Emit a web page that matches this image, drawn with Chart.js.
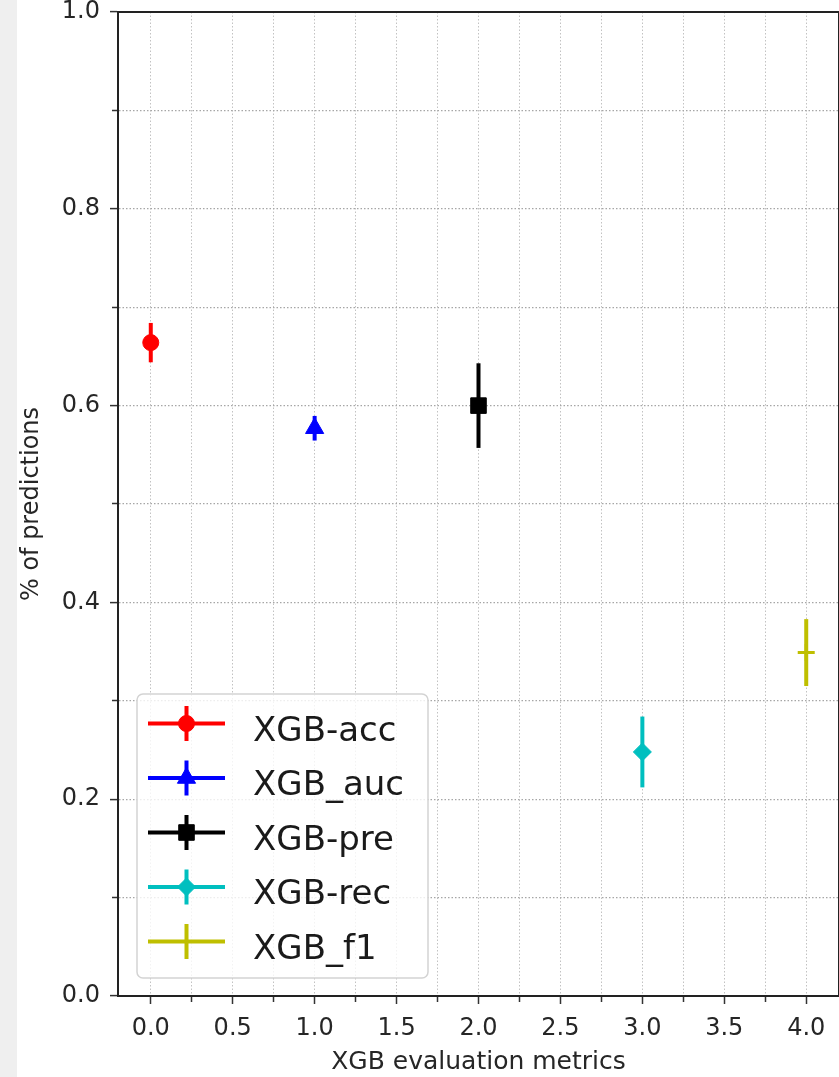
<!DOCTYPE html>
<html>
<head>
<meta charset="utf-8">
<script src="https://cdn.jsdelivr.net/npm/chart.js@4.4.1/dist/chart.umd.min.js"></script>
<style>
  html, body { margin: 0; padding: 0; }
  body {
    width: 839px; height: 1077px; overflow: hidden;
    background: linear-gradient(to right, #efefef 0, #efefef 17px, #ffffff 17px);
  }
  canvas { display: block; }
</style>
</head>
<body>
<canvas id="chart" width="851" height="1077"></canvas>
<script>
// Metric names, positions, means and spread (half-width of each error bar)
const metricNames  = ['XGB-acc', 'XGB_auc', 'XGB-pre', 'XGB-rec', 'XGB_f1'];
const metricX      = [0, 1, 2, 3, 4];
const metricMeans  = [0.664, 0.577, 0.600, 0.248, 0.349];
const metricErrors = [0.020, 0.0125, 0.043, 0.036, 0.034];

// Axis ticks
const xMajorTicks = [0, 0.5, 1, 1.5, 2, 2.5, 3, 3.5, 4];
const xMinorTicks = [0.25, 0.75, 1.25, 1.75, 2.25, 2.75, 3.25, 3.75];
const yMajorTicks = [0, 0.2, 0.4, 0.6, 0.8, 1.0];
const yMinorTicks = [0.1, 0.3, 0.5, 0.7, 0.9];
const xRange = [-0.2, 4.2];
const yRange = [0, 1];

// Marker look for each metric
const markerStyles = [
  { color: '#ff0000', pointStyle: 'circle',   radius: 8,    borderWidth: 1 },
  { color: '#0000ff', pointStyle: 'triangle', radius: 10.5, borderWidth: 1 },
  { color: '#000000', pointStyle: 'rect',     radius: 11,   borderWidth: 1 },
  { color: '#00bfbf', pointStyle: 'rectRot',  radius: 9,    borderWidth: 1 },
  { color: '#bfbf00', pointStyle: 'cross',    radius: 8.5,  borderWidth: 3 }
];

const FONT = "'DejaVu Sans', 'Liberation Sans', sans-serif";
const TEXT = '#262626';

const isIn = (list, v) => list.some(m => Math.abs(m - v) < 1e-9);
const tickList = (major, minor) => major.concat(minor).sort((a, b) => a - b).map(v => ({ value: v }));

const datasets = metricNames.map((name, i) => ({
  label: name,
  data: [{ x: metricX[i], y: metricMeans[i] }],
  pointStyle: markerStyles[i].pointStyle,
  pointRadius: markerStyles[i].radius,
  pointBorderWidth: markerStyles[i].borderWidth,
  backgroundColor: markerStyles[i].color,
  borderColor: markerStyles[i].color,
  showLine: false
}));

// Vertical error bars, drawn under the markers
const errorBars = {
  id: 'errorBars',
  beforeDatasetsDraw(chart) {
    const { ctx, scales: { x, y } } = chart;
    ctx.save();
    ctx.lineWidth = 4;
    ctx.lineCap = 'butt';
    metricNames.forEach((_, i) => {
      const px = x.getPixelForValue(metricX[i]);
      ctx.strokeStyle = markerStyles[i].color;
      ctx.beginPath();
      ctx.moveTo(px, y.getPixelForValue(metricMeans[i] + metricErrors[i]));
      ctx.lineTo(px, y.getPixelForValue(metricMeans[i] - metricErrors[i]));
      ctx.stroke();
    });
    ctx.restore();
  }
};

// Top and right spines to close the frame
const frame = {
  id: 'frame',
  afterDatasetsDraw(chart) {
    const { ctx, chartArea: a } = chart;
    ctx.save();
    ctx.strokeStyle = '#222';
    ctx.lineWidth = 2;
    ctx.beginPath();
    ctx.moveTo(a.left, a.top);
    ctx.lineTo(a.right, a.top);
    ctx.lineTo(a.right, a.bottom);
    ctx.stroke();
    ctx.restore();
  }
};

// Legend box with error-bar style handles
const errLegend = {
  id: 'errLegend',
  afterDraw(chart) {
    const ctx = chart.ctx;
    const bx = 137, by = 694, bw = 291, bh = 284, r = 6;
    ctx.save();
    ctx.beginPath();
    ctx.moveTo(bx + r, by);
    ctx.arcTo(bx + bw, by, bx + bw, by + bh, r);
    ctx.arcTo(bx + bw, by + bh, bx, by + bh, r);
    ctx.arcTo(bx, by + bh, bx, by, r);
    ctx.arcTo(bx, by, bx + bw, by, r);
    ctx.closePath();
    ctx.fillStyle = 'rgba(255,255,255,0.8)';
    ctx.fill();
    ctx.strokeStyle = '#d3d3d3';
    ctx.lineWidth = 1.5;
    ctx.stroke();

    const lineX0 = 148, lineX1 = 225, markX = 186.5, textX = 253;
    chart.data.datasets.forEach((ds, i) => {
      const rowY = 723.5 + i * 54.5;
      const st = markerStyles[i];
      ctx.strokeStyle = st.color;
      ctx.fillStyle = st.color;
      ctx.lineWidth = 4;
      ctx.lineCap = 'butt';
      ctx.beginPath();
      ctx.moveTo(lineX0, rowY);
      ctx.lineTo(lineX1, rowY);
      ctx.moveTo(markX, rowY - 17.5);
      ctx.lineTo(markX, rowY + 17.5);
      ctx.stroke();
      ctx.lineWidth = st.borderWidth;
      Chart.helpers.drawPoint(ctx, {
        pointStyle: st.pointStyle, radius: st.radius, rotation: 0, borderWidth: st.borderWidth
      }, markX, rowY);
      ctx.fillStyle = '#1a1a1a';
      ctx.font = '34px ' + FONT;
      ctx.textAlign = 'left';
      ctx.textBaseline = 'alphabetic';
      ctx.fillText(ds.label, textX, rowY + 17);
    });
    ctx.restore();
  }
};

new Chart(document.getElementById('chart'), {
  type: 'scatter',
  data: { datasets },
  plugins: [errorBars, frame, errLegend],
  options: {
    responsive: false,
    animation: false,
    devicePixelRatio: 1,
    events: [],
    layout: { padding: { top: 11, right: 1, left: 0, bottom: 0 } },
    plugins: { legend: { display: false }, tooltip: { enabled: false } },
    scales: {
      x: {
        type: 'linear',
        min: xRange[0], max: xRange[1],
        bounds: 'data',
        afterBuildTicks: s => { s.ticks = tickList(xMajorTicks, xMinorTicks); },
        afterFit: s => { s.height = 81; s.paddingLeft = 0; s.paddingRight = 0; },
        grid: {
          color: '#c2c2c2',
          lineWidth: 1,
          tickLength: 8,
          tickWidth: 1.5,
          tickColor: '#333',
          tickBorderDash: c => (c.tick && isIn(xMinorTicks, c.tick.value)) ? [5, 100] : []
        },
        border: { display: true, color: '#222', width: 2, dash: [1.5, 2] },
        ticks: {
          autoSkip: false, maxRotation: 0, padding: 10,
          color: TEXT, font: { family: FONT, size: 24 },
          callback: v => isIn(xMajorTicks, v) ? Number(v).toFixed(1) : ''
        },
        title: {
          display: true, text: 'XGB evaluation metrics', color: TEXT,
          font: { family: FONT, size: 25 }, padding: { top: 0, bottom: 0 }
        }
      },
      y: {
        type: 'linear',
        min: yRange[0], max: yRange[1],
        bounds: 'data',
        afterBuildTicks: s => { s.ticks = tickList(yMajorTicks, yMinorTicks); },
        afterFit: s => { s.width = 118; s.paddingTop = 0; s.paddingBottom = 0; },
        grid: {
          color: '#a6a6a6',
          lineWidth: 1.2,
          tickLength: 8,
          tickWidth: 1.5,
          tickColor: '#333',
          tickBorderDash: c => (c.tick && isIn(yMinorTicks, c.tick.value)) ? [0, 2, 5, 100] : []
        },
        border: { display: true, color: '#222', width: 2, dash: [1.5, 2] },
        ticks: {
          autoSkip: false, padding: 10,
          color: TEXT, font: { family: FONT, size: 24 },
          callback: v => isIn(yMajorTicks, v) ? Number(v).toFixed(1) : ''
        },
        title: {
          display: true, text: '% of predictions', color: TEXT,
          font: { family: FONT, size: 24 }, padding: { top: 17, bottom: 0 }
        }
      }
    }
  }
});
</script>
</body>
</html>
